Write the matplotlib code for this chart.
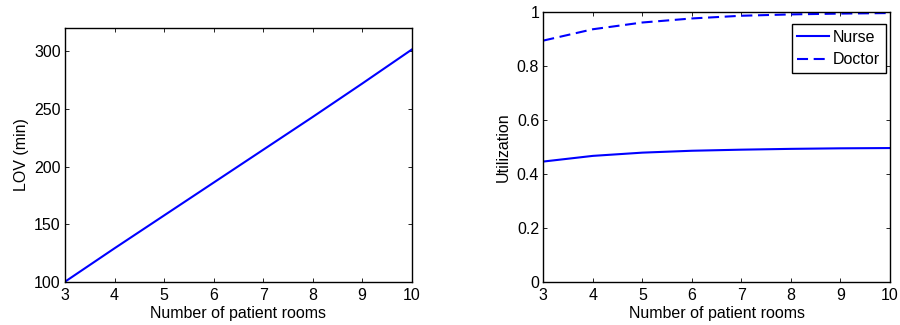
import matplotlib
matplotlib.use("Agg")
import matplotlib.pyplot as plt

rooms = [3, 4, 5, 6, 7, 8, 9, 10]
lov = [100, 129, 157.5, 186, 214.5, 243, 272, 301.5]
nurse_util = [0.445, 0.466, 0.478, 0.485, 0.489, 0.492, 0.494, 0.495]
doctor_util = [0.893, 0.935, 0.96, 0.975, 0.985, 0.99, 0.993, 0.995]

plt.rcParams['font.family'] = ['Liberation Sans', 'DejaVu Sans']
plt.rcParams['font.size'] = 11.5

fig = plt.figure(figsize=(9, 3.25), dpi=100)
W, H = 900, 325

def make_ax(l, r, t, b):
    return fig.add_axes([l / W, 1 - b / H, (r - l) / W, (b - t) / H])

def style(ax):
    for s in ax.spines.values():
        s.set_linewidth(1.0)
    ax.tick_params(direction='in', top=True, right=True, length=3, width=0.6)
    ax.tick_params(axis='x', pad=4.5)
    ax.tick_params(axis='y', pad=3)

ax1 = make_ax(65, 411.7, 28.3, 281.7)
ax1.plot(rooms, lov, color='#0000ff', lw=1.5)
ax1.set_xlim(3, 10)
ax1.set_ylim(100, 320)
ax1.set_xticks(range(3, 11))
ax1.set_yticks([100, 150, 200, 250, 300])
ax1.set_xlabel('Number of patient rooms', labelpad=2)
ax1.set_ylabel('LOV (min)', labelpad=4)
style(ax1)

ax2 = make_ax(543.3, 890, 11.7, 281.7)
ax2.plot(rooms, nurse_util, color='#0000ff', lw=1.5, label='Nurse')
ax2.plot(rooms, doctor_util, color='#0000ff', lw=1.5, ls=(0, (5.3, 2.7)), label='Doctor')
ax2.set_xlim(3, 10)
ax2.set_ylim(0, 1)
ax2.set_xticks(range(3, 11))
ax2.set_yticks([0, 0.2, 0.4, 0.6, 0.8, 1])
ax2.set_yticklabels(['0', '0.2', '0.4', '0.6', '0.8', '1'])
ax2.set_xlabel('Number of patient rooms', labelpad=2)
ax2.set_ylabel('Utilization', labelpad=4)
style(ax2)
leg = ax2.legend(loc='upper right', bbox_to_anchor=(0.988, 0.953), fancybox=False,
                 edgecolor='black', framealpha=1, handlelength=2.0, handletextpad=0.25,
                 borderpad=0.35, labelspacing=0.45, borderaxespad=0, handleheight=0.7)
leg.get_frame().set_linewidth(1.0)

fig.savefig('out.png', dpi=100)
